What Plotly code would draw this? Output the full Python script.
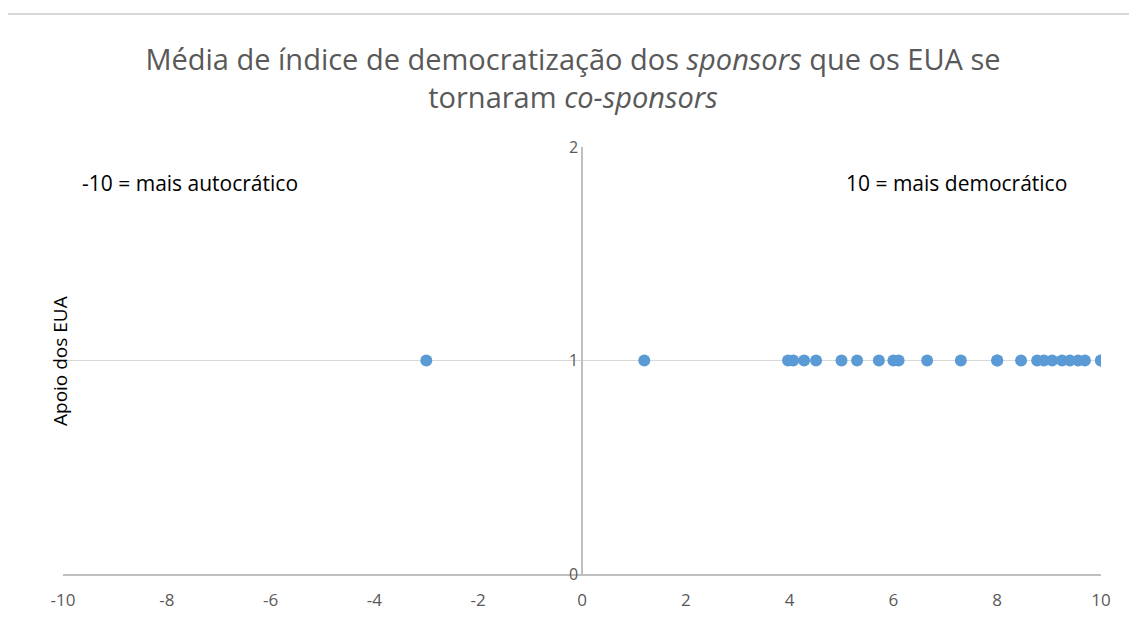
import plotly.graph_objects as go

# Data: democratization index of sponsors, US support (1 = co-sponsored)
democ_index = [-3.0, 1.2, 3.97, 4.07, 4.28, 4.51, 5.0, 5.3, 5.72, 6.0, 6.1, 6.65,
               7.3, 8.0, 8.0, 8.46, 8.77, 8.9, 9.06, 9.25, 9.4, 9.56, 9.69, 10.0, 10.0]
us_support = [1] * len(democ_index)

x_ticks = [-10, -8, -6, -4, -2, 0, 2, 4, 6, 8, 10]
x_tick_labels = ["-10", "-8", "-6", "-4", "-2", "0", "2", "4", "6", "8", "10"]
y_ticks = [0, 1, 2]
y_tick_labels = ["0", "1", "2"]

W, H = 1129, 619
ml, mr, mt, mb = 63, 28, 147, 45
pw = W - ml - mr
ph = H - mt - mb
FONT = "Open Sans, sans-serif"

def px_x(px):
    return (px - ml) / pw

def px_y(py):
    return (H - mb - py) / ph

fig = go.Figure()
fig.add_trace(go.Scatter(
    x=democ_index, y=us_support, mode="markers",
    marker=dict(color="#5b9bd5", size=12),
    showlegend=False, hoverinfo="x+y",
))

fig.update_layout(
    width=W, height=H,
    margin=dict(l=ml, r=mr, t=mt, b=mb, autoexpand=False),
    paper_bgcolor="white", plot_bgcolor="white",
    font=dict(family=FONT, color="#595959"),
    title=dict(
        text="Média de índice de democratização dos <i>sponsors</i> que os EUA se<br>tornaram <i>co-sponsors</i>",
        x=px_x(573), xref="paper", xanchor="center",
        y=1 - 70 / H, yref="container", yanchor="middle",
        font=dict(size=29, color="#595959", family=FONT),
    ),
    xaxis=dict(
        range=[-10, 10], tickvals=x_ticks, ticktext=x_tick_labels,
        showgrid=False, zeroline=False, automargin=False,
        showline=True, linecolor="#bfbfbf", linewidth=1.5,
        ticks="", ticklabelstandoff=10, tickfont=dict(size=17, color="#595959"),
    ),
    yaxis=dict(
        range=[0, 2], tickvals=y_ticks, ticktext=y_tick_labels,
        anchor="free", position=0.5, automargin=False,
        showgrid=True, gridcolor="#d9d9d9", gridwidth=1.2, zeroline=False,
        showline=True, linecolor="#bfbfbf", linewidth=1.5,
        ticks="", tickfont=dict(size=16, color="#595959"),
    ),
)

fig.add_annotation(
    text="Apoio dos EUA", x=px_x(45), y=px_y(361), xref="paper", yref="paper",
    textangle=-90, showarrow=False, font=dict(size=19, color="black", family=FONT),
)
fig.add_annotation(
    text="-10 = mais autocrático", x=px_x(80), y=px_y(183), xref="paper", yref="paper",
    xanchor="left", yanchor="middle", showarrow=False,
    font=dict(size=21, color="black", family=FONT),
)
fig.add_annotation(
    text="10 = mais democrático", x=px_x(1069), y=px_y(183), xref="paper", yref="paper",
    xanchor="right", yanchor="middle", showarrow=False,
    font=dict(size=21, color="black", family=FONT),
)

# Chart border top line
fig.add_shape(type="line", xref="paper", yref="paper",
              x0=px_x(8), x1=px_x(1129), y0=px_y(14), y1=px_y(14),
              line=dict(color="#d9d9d9", width=2))

fig.write_html("out.html", config={"displayModeBar": False},
               post_script="document.body.style.margin='0';")
